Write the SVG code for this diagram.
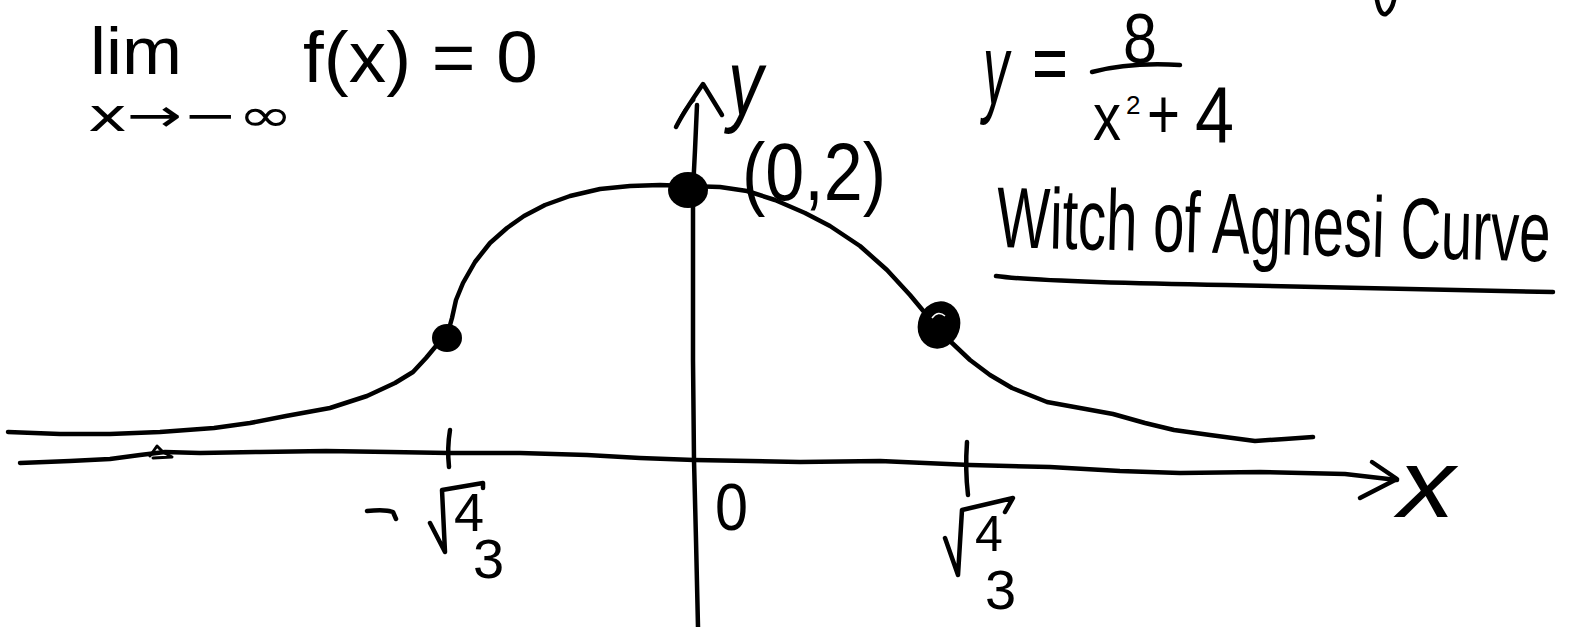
<svg xmlns="http://www.w3.org/2000/svg" width="1582" height="627" viewBox="0 0 1582 627">
<style>
.ink{fill:none;stroke:#000;stroke-width:4.5;stroke-linecap:round;stroke-linejoin:round}
.thin{fill:none;stroke:#000;stroke-width:3;stroke-linecap:round;stroke-linejoin:round}
.dot{fill:#000}
.t{font-family:"Liberation Sans",Arial,sans-serif;fill:#000}
.v{font-family:"Liberation Sans",Arial,sans-serif;font-style:italic;fill:#000}
.d{font-family:"DejaVu Sans",sans-serif;fill:#000}
</style>
<rect width="1582" height="627" fill="#fff"/>

<g id="limit-label">
<text class="t" x="90" y="74" font-size="66" textLength="92" lengthAdjust="spacingAndGlyphs">lim</text>
<text class="d" x="88" y="131" font-size="46" textLength="205" lengthAdjust="spacingAndGlyphs">x→−∞</text>
<text class="t" x="303" y="82" font-size="72" textLength="235" lengthAdjust="spacingAndGlyphs">f(x) = 0</text>
</g>

<g id="equation">
<text class="v" x="983" y="104" font-size="100" textLength="26" lengthAdjust="spacingAndGlyphs">y</text>
<text class="t" x="1032" y="91" font-size="82" textLength="36" lengthAdjust="spacingAndGlyphs">=</text>
<text class="t" x="1123" y="63" font-size="71" textLength="34" lengthAdjust="spacingAndGlyphs">8</text>
<path class="ink" d="M1092,72 Q1130,62 1180,65"/>
<text class="t" x="1093" y="140" font-size="66" textLength="28" lengthAdjust="spacingAndGlyphs">x</text>
<text class="t" x="1126" y="114" font-size="26">2</text>
<text class="t" x="1147" y="138" font-size="70" textLength="33" lengthAdjust="spacingAndGlyphs">+</text>
<text class="t" x="1195" y="142" font-size="80" textLength="39" lengthAdjust="spacingAndGlyphs">4</text>
</g>

<g id="title">
<text class="t" x="0" y="0" font-size="56" textLength="554" lengthAdjust="spacingAndGlyphs" transform="translate(996 247) rotate(1.5) scale(1 1.54)">Witch of Agnesi Curve</text>
<path class="ink" d="M996,276 Q1040,282 1226,285 Q1413,289 1553,292"/>
<path class="ink" d="M1377,0 Q1380,16 1386,14 Q1392,10 1394,0"/>
</g>

<g id="connectors">
<g id="x-axis">
<path class="ink" d="M20,463 L70,461 L110,459 L140,455 L165,452 L200,453 L260,452 L326,451 L390,452 L449,453 L520,453 L587,455 L640,458 L694,460 L750,461 L800,462 L880,461 L970,465 L1050,467 L1120,471 L1180,473 L1260,472 L1345,474 L1397,480"/>
<path class="thin" d="M150,456 L157,446 L163,452 L172,457 L153,458"/>
<path class="ink" d="M1372,462 L1397,479 L1360,498"/>
</g>
<g id="y-axis">
<path class="ink" d="M697,105 L695,150 L693,190 L693,260 L693,360 L694,460 L696,540 L698,627"/>
<path class="ink" d="M676,127 C682,115 692,100 703,84 L722,115"/>
<path class="thin" d="M678,124 Q684,108 694,100"/>
</g>
<path id="curve" class="ink" d="M8,432 L60,434 L110,434 L160,432 L214,428 L250,423 L286,416 L330,408 L367,396 L395,383 L413,372 L426,358 L436,346 L447,336 L452,318 L456,300 L463,283 L475,262 L490,243 L507,228 L524,216 L545,205 L570,196 L600,189 L630,186 L660,185 L688,186 L720,187 L747,191 L775,200 L805,213 L830,226 L860,246 L887,270 L910,295 L925,313 L938,326 L951,342 L970,360 L990,375 L1012,388 L1047,402 L1080,408 L1113,414 L1145,423 L1174,430 L1210,435 L1255,441 L1285,439 L1313,437"/>
<g id="ticks">
<path class="ink" d="M450,430 Q447,448 449,467"/>
<path class="ink" d="M967,442 Q965,470 968,495"/>
</g>
</g>

<g id="point-top">
<ellipse class="dot" cx="688" cy="190" rx="20" ry="18"/>
</g>
<g id="point-left">
<ellipse class="dot" cx="447" cy="338" rx="15" ry="14"/>
</g>
<g id="point-right">
<ellipse class="dot" cx="939" cy="325" rx="21" ry="24" transform="rotate(20 939 325)"/>
<path d="M932,318 Q938,310 945,316" stroke="#fff" stroke-width="1.5" fill="none"/>
</g>

<g id="label-top">
<text class="t" x="742" y="200" font-size="82" textLength="144" lengthAdjust="spacingAndGlyphs">(0,2)</text>
</g>
<g id="label-y">
<text class="v" x="728" y="115" font-size="93" textLength="35" lengthAdjust="spacingAndGlyphs">y</text>
</g>
<g id="label-x">
<text class="v" x="1398" y="517" font-size="96" textLength="57" lengthAdjust="spacingAndGlyphs">x</text>
</g>
<g id="label-origin">
<text class="t" x="715" y="530" font-size="67" textLength="33" lengthAdjust="spacingAndGlyphs">0</text>
</g>
<g id="label-neg">
<path class="ink" d="M367,511 Q385,509 393,512 L396,519"/>
<path class="ink" d="M430,523 L445,552 L442,490 L483,483 L483,488"/>
<text class="t" font-size="54"><tspan x="454" y="531">4</tspan><tspan x="473" y="578" font-size="56">3</tspan></text>
</g>
<g id="label-pos">
<path class="ink" d="M945,538 L958,575 L962,510 L1013,498 L1005,512"/>
<text class="t" font-size="50"><tspan x="975" y="551">4</tspan><tspan x="985" y="609" font-size="56">3</tspan></text>
</g>
</svg>
